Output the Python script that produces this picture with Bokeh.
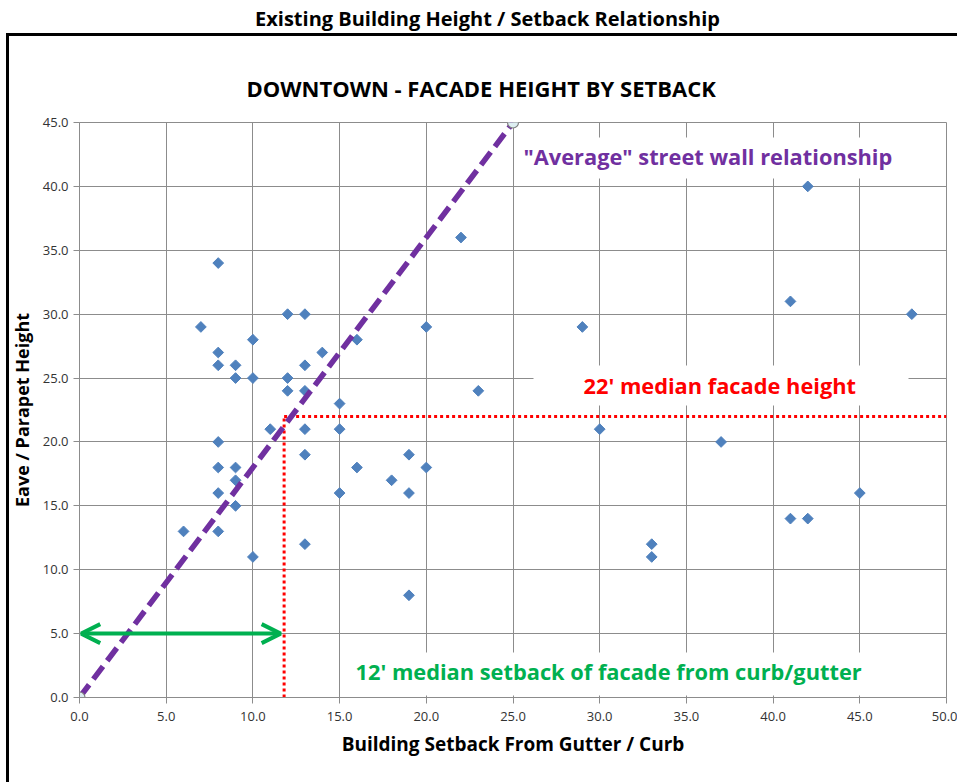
from bokeh.plotting import figure
from bokeh.layouts import column
from bokeh.models import (Label, Arrow, OpenHead, FixedTicker, Title,
                          NumeralTickFormatter, Range1d, ColumnDataSource)
from bokeh.embed import file_html
from bokeh.resources import INLINE

# ---- data ----
setback = [8, 7, 12, 13, 10, 8, 8, 9, 9, 10, 12, 13, 14, 16, 12, 13, 15,
           11, 13, 8, 8, 9, 9, 8, 9, 6, 8, 10, 13, 13, 15, 15, 16, 18, 19,
           19, 20, 19, 20, 22, 23, 29, 30, 33, 33, 37, 41, 42, 41, 42, 45, 48]
facade_height = [34, 29, 30, 30, 28, 27, 26, 26, 25, 25, 25, 26, 27, 28, 24, 24, 23,
                 21, 21, 20, 18, 18, 17, 16, 15, 13, 13, 11, 19, 12, 21, 16, 18, 17, 19,
                 16, 18, 8, 29, 36, 24, 29, 21, 12, 11, 20, 31, 40, 14, 14, 16, 30]
avg_x = [0, 25]
avg_y = [0, 45]
median_setback = 11.8
median_height = 22
arrow_y = 5
arrow_x = [0.1, 11.6]
x_ticks = [0, 5, 10, 15, 20, 25, 30, 35, 40, 45, 50]
y_ticks = [0, 5, 10, 15, 20, 25, 30, 35, 40, 45]
x_max = 50
y_max = 45

FONT = "Open Sans"
GRID = "#8c8c8c"
W = 957
TOP_H = 33                 # strip holding the page title
H = 782 - TOP_H            # main chart figure
L, R, T, B = 79, 11, 89, 85

# ---------- page title strip (its frame is aligned with the chart frame) ----------
top = figure(width=W, height=TOP_H, output_backend="svg", toolbar_location=None,
             x_range=Range1d(L, W - R), y_range=Range1d(TOP_H, 0),
             x_axis_location=None, y_axis_location=None,
             min_border=0, min_border_left=0, min_border_right=0,
             min_border_top=0, min_border_bottom=0)
top.grid.visible = False
top.outline_line_color = None
top.background_fill_color = "white"
top.border_fill_color = "white"
top.add_layout(Label(x=487, y=18, text="Existing Building Height / Setback Relationship",
                     text_font=FONT, text_font_style="bold", text_font_size="20px",
                     text_color="black", text_align="center", text_baseline="middle"))

# ---------- main chart ----------
p = figure(width=W, height=H, output_backend="svg", toolbar_location=None,
           x_range=Range1d(0, x_max), y_range=Range1d(0, y_max),
           min_border_left=L, min_border_right=R, min_border_top=T, min_border_bottom=B)
p.background_fill_color = "white"
p.border_fill_color = "white"
p.border_fill_alpha = 0.0
p.outline_line_color = GRID
p.outline_line_width = 1
# outer black frame (left and top edges) painted behind the transparent border area
p.styles = {
    "background-color": "white",
    "background-image": "linear-gradient(#000,#000), linear-gradient(#000,#000)",
    "background-size": "3px 760px, 960px 3px",
    "background-position": "6px 0px, 6px 0px",
    "background-repeat": "no-repeat",
}

fw = W - L - R
fh = H - T - B
def dx(px):  # page px -> data x
    return (px - L) / fw * x_max
def dy(py):  # page py -> data y
    return (TOP_H + T + fh - py) / fh * y_max

# chart title
p.add_layout(Title(text="DOWNTOWN - FACADE HEIGHT BY SETBACK",
                   text_font=FONT, text_font_style="bold", text_font_size="22px",
                   text_color="black", align="left", offset=167, standoff=40), "above")

# axes
for ax in (p.xaxis[0], p.yaxis[0]):
    ax.formatter = NumeralTickFormatter(format="0.0")
    ax.axis_line_color = GRID
    ax.major_tick_line_color = GRID
    ax.major_tick_out = 6
    ax.major_tick_in = 0
    ax.minor_tick_line_color = None
    ax.major_label_text_font = FONT
    ax.major_label_text_font_size = "13px"
    ax.major_label_text_color = "#333333"
    ax.axis_label_text_font = FONT
    ax.axis_label_text_font_style = "bold"
    ax.axis_label_text_color = "black"
p.xaxis.axis_label_text_font_size = "19px"
p.yaxis.axis_label_text_font_size = "18px"
p.xaxis.ticker = FixedTicker(ticks=x_ticks)
p.yaxis.ticker = FixedTicker(ticks=y_ticks)
p.xaxis.axis_label = "Building Setback From Gutter / Curb"
p.yaxis.axis_label = "Eave / Parapet Height"
p.xaxis.major_label_standoff = 8
p.yaxis.major_label_standoff = 5
p.xaxis.axis_label_standoff = 7
p.yaxis.axis_label_standoff = 6

p.xgrid.ticker = FixedTicker(ticks=x_ticks)
p.ygrid.ticker = FixedTicker(ticks=y_ticks)
p.grid.grid_line_color = GRID
p.grid.grid_line_width = 1

# white label backgrounds (cut the gridlines like the original)
p.quad(left=[dx(517), dx(533), dx(340)], right=[dx(900), dx(908), dx(900)],
       bottom=[dy(178), dy(405), dy(695)], top=[dy(137), dy(365), dy(652)],
       fill_color="white", line_color=None)

# median lines
p.line([median_setback, x_max], [median_height, median_height],
       line_color="#ff0000", line_width=3, line_dash="3 3")
p.line([median_setback, median_setback], [0, median_height],
       line_color="#ff0000", line_width=3, line_dash="3 3")

# data points
src = ColumnDataSource(dict(x=setback, y=facade_height))
p.scatter("x", "y", source=src, marker="square", angle=0.785398, size=7.6,
          fill_color="#4f81bd", line_color="#4f81bd")

# average street wall line
p.line(avg_x, avg_y, line_color="#7030a0", line_width=5.5, line_dash="16 7")
p.scatter(avg_x, avg_y, marker="circle", size=11, fill_color="#ddeef2",
          line_color="#7f7f7f", line_width=1.2)

# green arrow
p.add_layout(Arrow(x_start=arrow_x[0], y_start=arrow_y, x_end=arrow_x[1], y_end=arrow_y,
                   line_color="#00b050", line_width=4,
                   start=OpenHead(size=19, line_color="#00b050", line_width=4),
                   end=OpenHead(size=19, line_color="#00b050", line_width=4)))

def lab(text, x, y, size, color, align="left"):
    p.add_layout(Label(x=x, y=y, text=text, text_font=FONT,
                       text_font_style="bold", text_font_size=size,
                       text_color=color, text_align=align, text_baseline="middle"))

lab('"Average" street wall relationship', dx(523), dy(155.5), "21.8px", "#7030a0")
lab("22' median facade height", dx(583), dy(385), "21.8px", "#ff0000")
lab("12' median setback of facade from curb/gutter", dx(355), dy(671), "21.8px", "#00b050")

page = column(top, p, spacing=0)
open("out.html", "w").write(file_html(page, INLINE))
